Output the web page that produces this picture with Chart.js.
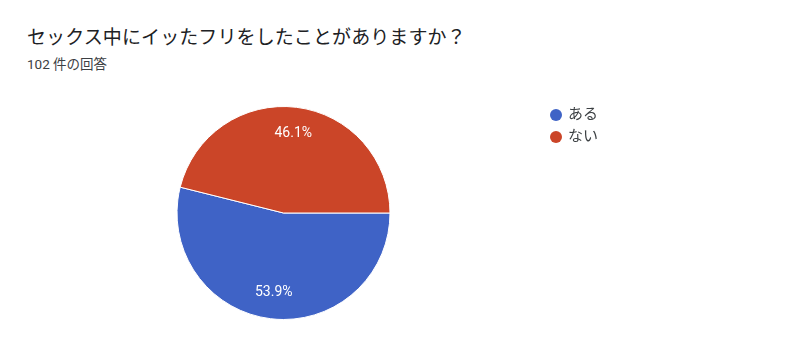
<!DOCTYPE html>
<html><head><meta charset="utf-8">
<script src="https://cdn.jsdelivr.net/npm/chart.js@4/dist/chart.umd.min.js"></script>
<style>
html,body{margin:0;padding:0;background:#fff;width:800px;height:363px;overflow:hidden;font-family:Roboto,"Noto Sans CJK JP",sans-serif;}
#title{position:absolute;left:27px;top:22px;font-size:19px;color:#202124;white-space:nowrap;letter-spacing:0.1px;}
#sub{position:absolute;left:27px;top:53px;font-size:13.5px;color:#3c4043;white-space:nowrap;}
#wrap{position:absolute;left:0;top:0;width:800px;height:363px;}
</style></head><body>
<div id="title">セックス中にイッたフリをしたことがありますか？</div>
<div id="sub">102 件の回答</div>
<div id="wrap"><canvas id="c" width="800" height="363"></canvas></div>
<script>
const categories = ["ある", "ない"];
const values = [53.9, 46.1];
const colors = ["#3f63c6", "#cb4528"];

const sliceLabels = {
  id: 'sliceLabels',
  afterDatasetsDraw(chart) {
    const ctx = chart.ctx;
    const meta = chart.getDatasetMeta(0);
    ctx.save();
    ctx.fillStyle = '#ffffff';
    ctx.font = '14px Roboto, "Noto Sans CJK JP", sans-serif';
    ctx.textAlign = 'center';
    ctx.textBaseline = 'middle';
    meta.data.forEach((arc, i) => {
      const p = arc.getProps(['x','y','startAngle','endAngle','outerRadius']);
      const mid = (p.startAngle + p.endAngle) / 2;
      const r = p.outerRadius * 0.75;
      ctx.fillText(values[i].toFixed(1) + '%', p.x + Math.cos(mid) * r, p.y + Math.sin(mid) * r);
    });
    ctx.restore();
  }
};

const customLegend = {
  id: 'customLegend',
  afterDraw(chart) {
    const ctx = chart.ctx;
    ctx.save();
    ctx.font = '15px Roboto, "Noto Sans CJK JP", sans-serif';
    ctx.textBaseline = 'middle';
    ctx.textAlign = 'left';
    categories.forEach((c, i) => {
      const y = 115 + i * 22;
      ctx.fillStyle = colors[i];
      ctx.beginPath();
      ctx.arc(556, y, 6, 0, Math.PI * 2);
      ctx.fill();
      ctx.fillStyle = '#3c4043';
      ctx.fillText(c, 568, y);
    });
    ctx.restore();
  }
};

new Chart(document.getElementById('c'), {
  type: 'pie',
  data: {
    labels: categories,
    datasets: [{
      data: values,
      backgroundColor: colors,
      borderColor: '#ffffff',
      borderWidth: 1
    }]
  },
  options: {
    responsive: false,
    animation: false,
    rotation: 90,
    layout: { padding: { left: 176, right: 409, top: 106, bottom: 43 } },
    plugins: { legend: { display: false }, tooltip: { enabled: false } }
  },
  plugins: [sliceLabels, customLegend]
});
</script>
</body></html>
